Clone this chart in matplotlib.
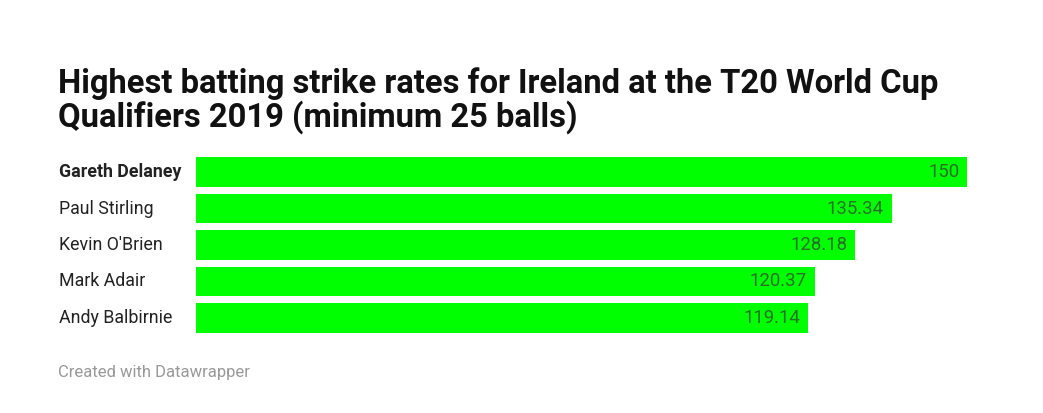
import matplotlib
matplotlib.use("Agg")
import matplotlib.pyplot as plt

players = ["Gareth Delaney", "Paul Stirling", "Kevin O'Brien", "Mark Adair", "Andy Balbirnie"]
strike_rates = [150, 135.34, 128.18, 120.37, 119.14]
value_labels = ["150", "135.34", "128.18", "120.37", "119.14"]

title = "Highest batting strike rates for Ireland at the T20 World Cup\nQualifiers 2019 (minimum 25 balls)"
footer = "Created with Datawrapper"

W, H = 1043, 413
fig = plt.figure(figsize=(W / 100, H / 100), dpi=100)
fig.patch.set_facecolor("white")

plt.rcParams['font.family'] = ['Roboto', 'DejaVu Sans']

# axes geometry in pixels
ax_left, ax_right = 196, 967
top_px, bottom_px = 153.75, 336.25
ax = fig.add_axes([ax_left / W, 1 - bottom_px / H, (ax_right - ax_left) / W, (bottom_px - top_px) / H])
ax.set_xlim(0, 150)
ax.set_ylim(len(players) - 0.5, -0.5)
ax.axis("off")

ypos = list(range(len(players)))
ax.barh(ypos, strike_rates, height=0.82, color="#00ff00", edgecolor="none")

for y, v, lab in zip(ypos, strike_rates, value_labels):
    ax.annotate(lab, xy=(v, y), xytext=(-5.5, 0), textcoords="offset points",
                ha="right", va="center", fontsize=13.4, color="#2a6e2a")

for i, (y, name) in enumerate(zip(ypos, players)):
    ax.annotate(name, xy=(0, y), xycoords=("axes fraction", "data"),
                xytext=(59 - ax_left, 0), textcoords="offset pixels",
                ha="left", va="center", fontsize=12.8, color="#222222",
                fontweight="bold" if i == 0 else "normal")

fig.text(58 / W, 1 - 67 / H, title, ha="left", va="top", fontsize=23.6,
         fontweight="bold", color="#111111", linespacing=1.0)

fig.text(58 / W, 1 - 373 / H, footer, ha="left", va="center", fontsize=12, color="#999999")

fig.savefig("out.png", dpi=100, facecolor="white")
